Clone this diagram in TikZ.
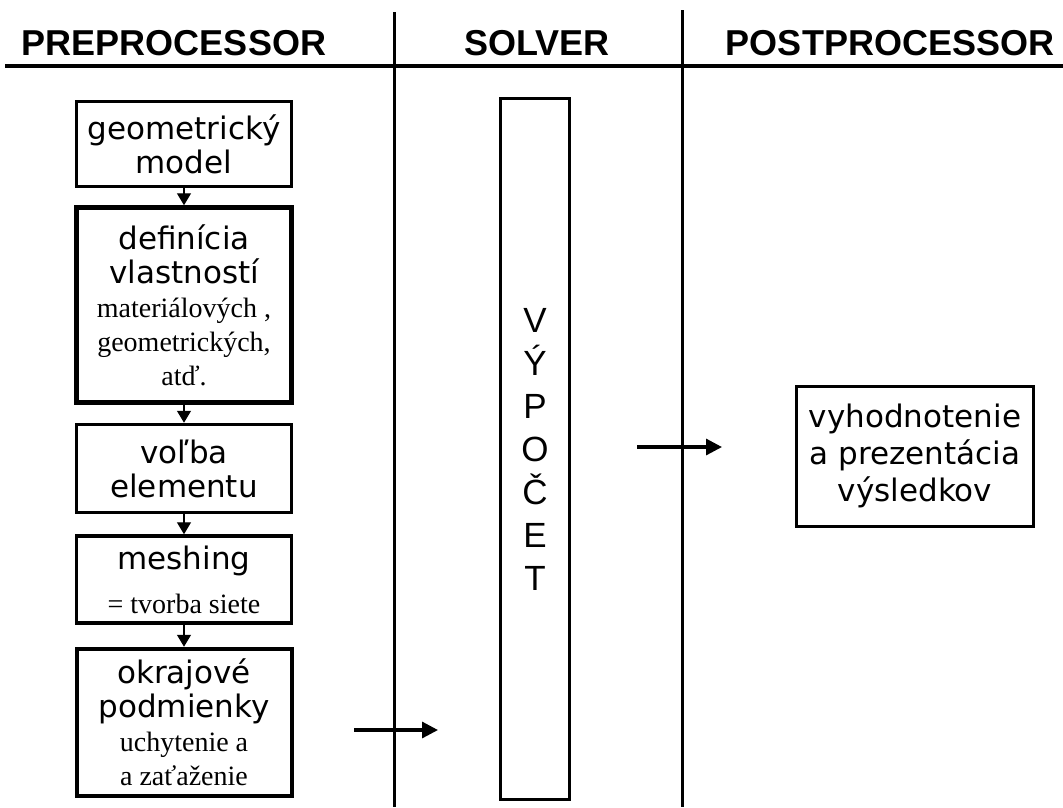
\documentclass[tikz,border=0pt]{standalone}
\usepackage{fontspec}
\setmainfont{Liberation Serif}
\setsansfont{DejaVu Sans}
\newfontfamily\headfamily{Liberation Sans}
\usetikzlibrary{arrows.meta,positioning}

\newcommand{\boxsans}{\sffamily\fontsize{31}{34}\selectfont}
\newcommand{\boxserif}{\rmfamily\fontsize{28}{33}\selectfont}

\tikzset{
  prebox/.style={draw, line width=3.5pt, minimum width=215pt, inner sep=0pt, align=center, font=\boxsans},
  headtext/.style={anchor=base, font=\headfamily\bfseries\fontsize{36}{36}\selectfont},
  lanesep/.style={line width=3pt},
  flowtip/.style={line width=1.2pt, -{Triangle[width=14pt,length=12pt]}},
  passarrow/.style={line width=3.2pt, -{Triangle[width=16pt,length=16pt]}}
}

\begin{document}
\begin{tikzpicture}[x=1pt,y=-1pt]
\useasboundingbox (0,0) rectangle (1063,807);

% headings
\node[headtext] (hpre) at (174,55) {PREPROCESSOR};
\node[headtext] (hsol) at (537,55) {SOLVER};
\node[headtext] (hpost) at (890,55) {POSTPROCESSOR};

\draw[line width=4.5pt] (5,66) -- (1063,66);
\draw[lanesep] (394,12) -- (394,807);
\draw[lanesep] (682,10) -- (682,807);

% preprocessor chain
\node[prebox, minimum height=85pt] (b1) at (184,144) {geometrický\\model};
\node[prebox, minimum height=195pt, line width=4.5pt, below=17pt of b1] (b2)
  {definícia\\vlastností\\{\boxserif materiálových ,}\\{\boxserif geometrických,}\\{\boxserif atď.}};
\node[prebox, minimum height=88pt, below=18pt of b2] (b3) {voľba\\elementu};
\node[prebox, minimum height=87pt, below=20pt of b3] (b4) {meshing\\[10pt]{\boxserif = tvorba siete}};
\node[prebox, minimum height=147pt, line width=4pt, below=22pt of b4] (b5)
  {okrajové\\podmienky\\{\boxserif uchytenie a}\\{\boxserif a zaťaženie}};

\foreach \a/\b in {b1/b2,b2/b3,b3/b4,b4/b5} {
\draw[flowtip] (\a) -- (\b);
};

% solver
\node[draw, line width=3pt, minimum width=69pt, minimum height=701pt, inner sep=0pt, align=center,
  font=\headfamily\fontsize{35}{43}\selectfont] (calc) at (535,449) {V\\Ý\\P\\O\\Č\\E\\T};

% postprocessor
\node[draw, line width=3pt, minimum width=237pt, minimum height=140pt, inner sep=0pt, align=center,
  font=\sffamily\fontsize{31}{37}\selectfont] (result) at (915,456) {vyhodnotenie\\a prezentácia\\výsledkov};

\coordinate (inL) at (354,730);
\coordinate (inR) at (438,730);
\coordinate (outL) at (637,447);
\coordinate (outR) at (722,447);
\draw[passarrow] (inL) -- (inR);
\draw[passarrow] (outL) -- (outR);
\end{tikzpicture}
\end{document}
